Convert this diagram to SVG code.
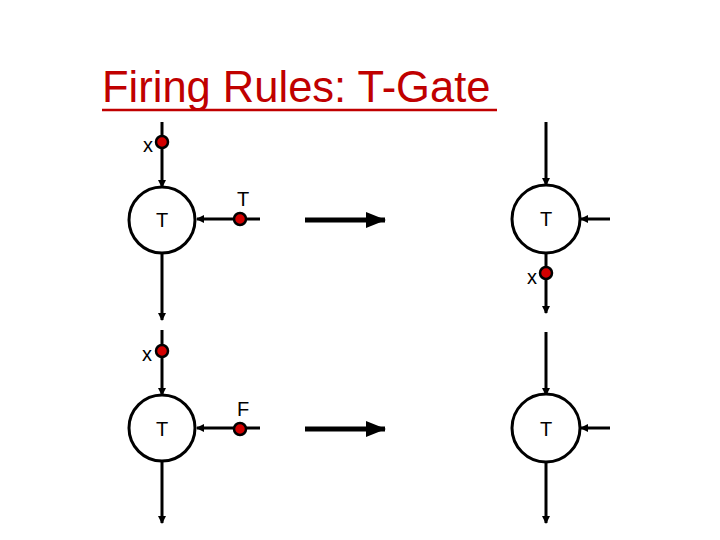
<svg xmlns="http://www.w3.org/2000/svg" width="720" height="540" viewBox="0 0 720 540">
<defs>
<marker id="a" markerWidth="8" markerHeight="8" refX="7" refY="4" orient="auto" markerUnits="userSpaceOnUse"><path d="M0,0L8,4L0,8Z" fill="#000"/></marker>
<marker id="b" markerWidth="20" markerHeight="16" refX="19" refY="8" orient="auto" markerUnits="userSpaceOnUse"><path d="M0,0L20,8L0,16Z" fill="#000"/></marker>
<style>
.l{stroke:#000;stroke-width:3;fill:none}
.c{stroke:#000;stroke-width:3;fill:#fff}
.k{fill:#d40000;stroke:#000;stroke-width:2.5}
.t{font-family:"Liberation Sans",Arial,sans-serif;font-size:20px;fill:#000}
</style>
</defs>
<text x="102" y="102" font-family="Liberation Sans, Arial, sans-serif" font-size="43.5" fill="#c00000">Firing Rules: T-Gate</text>
<line x1="102" y1="110" x2="497" y2="110" stroke="#c00000" stroke-width="2.5"/>
<g id="connectors">
<line class="l" x1="162" y1="122" x2="162" y2="187" marker-end="url(#a)"/>
<line class="l" x1="260" y1="219" x2="197" y2="219" marker-end="url(#a)"/>
<line class="l" x1="162" y1="254" x2="162" y2="320" marker-end="url(#a)"/>
<line class="l" x1="546" y1="122" x2="546" y2="185" marker-end="url(#a)"/>
<line class="l" x1="610" y1="219" x2="581" y2="219" marker-end="url(#a)"/>
<line class="l" x1="546" y1="252" x2="546" y2="313" marker-end="url(#a)"/>
<line class="l" x1="162" y1="330" x2="162" y2="395" marker-end="url(#a)"/>
<line class="l" x1="260" y1="428" x2="197" y2="428" marker-end="url(#a)"/>
<line class="l" x1="162" y1="462" x2="162" y2="523" marker-end="url(#a)"/>
<line class="l" x1="546" y1="332" x2="546" y2="395" marker-end="url(#a)"/>
<line class="l" x1="610" y1="428" x2="581" y2="428" marker-end="url(#a)"/>
<line class="l" x1="546" y1="462" x2="546" y2="523" marker-end="url(#a)"/>
<line x1="305" y1="220" x2="385" y2="220" stroke="#000" stroke-width="5" marker-end="url(#b)"/>
<line x1="305" y1="429" x2="385" y2="429" stroke="#000" stroke-width="5" marker-end="url(#b)"/>
</g>
<g id="n1"><circle class="c" cx="162" cy="220" r="33"/><text class="t" x="162" y="227" text-anchor="middle">T</text></g>
<g id="n2"><circle class="c" cx="546" cy="219" r="34"/><text class="t" x="546" y="226" text-anchor="middle">T</text></g>
<g id="n3"><circle class="c" cx="162" cy="428" r="33"/><text class="t" x="162" y="436" text-anchor="middle">T</text></g>
<g id="n4"><circle class="c" cx="546" cy="428" r="34"/><text class="t" x="546" y="436" text-anchor="middle">T</text></g>
<g id="tokens">
<circle class="k" cx="162" cy="142" r="6"/><text class="t" x="148" y="152" text-anchor="middle">x</text>
<circle class="k" cx="240" cy="219" r="6"/><text class="t" x="243" y="206" text-anchor="middle">T</text>
<circle class="k" cx="546" cy="273" r="6"/><text class="t" x="532" y="284" text-anchor="middle">x</text>
<circle class="k" cx="162" cy="351" r="6"/><text class="t" x="147" y="361" text-anchor="middle">x</text>
<circle class="k" cx="240" cy="429" r="6"/><text class="t" x="243" y="416" text-anchor="middle">F</text>
</g>
</svg>
